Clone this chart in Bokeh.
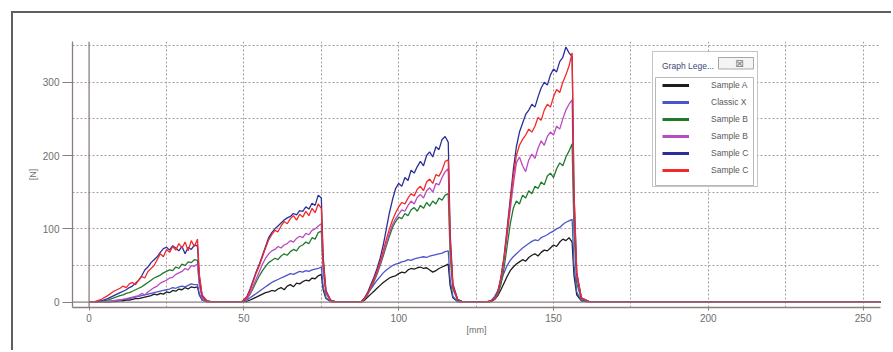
from bokeh.plotting import figure
from bokeh.models import Range1d, FixedTicker, Span, Legend, LegendItem
from bokeh.core.properties import value
from bokeh.embed import file_html
from bokeh.resources import INLINE

# ---------------- data ----------------
X1 = [0, 2, 4, 6, 8, 10, 11, 12, 13, 14, 15, 16, 17, 18, 19, 20, 21, 22, 23, 24,
      25, 26, 27, 28, 29, 30, 31, 32, 33, 34, 35, 35.6, 36.5, 38, 40]
X2 = [48, 49.5, 51, 52, 53, 54, 55, 56, 57, 58, 59, 60, 61, 62, 63, 64, 65, 66, 67,
      68, 69, 70, 71, 72, 73, 74, 75, 75.6, 76.5, 78, 80]
X3 = [86, 88, 89, 90, 91, 92, 93, 94, 95, 96, 97, 98, 99, 100, 101, 102, 103, 104,
      105, 106, 107, 108, 109, 110, 111, 112, 113, 114, 115, 116, 116.6, 117.5, 119, 121]
X4 = [126, 129, 130, 131, 132, 133, 134, 135, 136, 137, 138, 139, 140, 141, 142, 143,
      144, 145, 146, 147, 148, 149, 150, 151, 152, 153, 154, 155, 156, 156.6, 157.5, 159, 162]
X_TAIL = [257]
Y_TAIL = [0]

SAMPLE_A_1 = [0, 0, 0, 0, 1, 2, 2, 3, 3, 4, 5, 5, 6, 7, 8, 9, 11, 10, 12, 11,
              14, 13, 16, 15, 18, 17, 20, 18, 21, 20, 21, 10, 3, 1, 0]
SAMPLE_A_2 = [0, 0, 1, 3, 5, 7, 9, 11, 13, 14, 16, 15, 18, 20, 17, 22, 24, 21, 26, 25,
              28, 30, 29, 33, 32, 36, 38, 17, 5, 1, 0]
SAMPLE_A_3 = [0, 0, 3, 7, 11, 15, 19, 23, 27, 30, 33, 35, 36, 39, 41, 40, 44, 46, 45, 47,
              48, 46, 47, 44, 41, 43, 46, 48, 50, 52, 23, 6, 1, 0]
SAMPLE_A_4 = [0, 0, 1, 4, 9, 17, 26, 35, 43, 48, 52, 55, 58, 56, 61, 64, 66, 63, 68, 71,
              70, 74, 78, 76, 82, 86, 84, 88, 82, 37, 10, 2, 0]

CLASSIC_X_1 = [0, 0, 0, 1, 2, 3, 4, 4, 5, 6, 7, 8, 9, 10, 11, 12, 13, 14, 15, 16,
               17, 18, 20, 19, 21, 22, 21, 23, 25, 24, 24, 11, 3, 1, 0]
CLASSIC_X_2 = [0, 0, 3, 6, 9, 12, 15, 18, 21, 24, 27, 29, 31, 33, 35, 37, 39, 38, 40, 42,
               41, 43, 42, 44, 45, 46, 48, 21, 6, 1, 0]
CLASSIC_X_3 = [0, 1, 6, 12, 18, 24, 30, 35, 40, 44, 47, 50, 52, 53, 55, 56, 58, 57, 59, 60,
               61, 62, 61, 63, 64, 65, 66, 67, 69, 70, 31, 8, 1, 0]
CLASSIC_X_4 = [0, 1, 3, 8, 16, 28, 40, 50, 57, 62, 66, 70, 74, 77, 80, 83, 85, 84, 88, 90,
               92, 95, 97, 100, 102, 106, 109, 111, 113, 51, 14, 2, 0]

SAMPLE_B_GREEN_1 = [0, 0, 1, 3, 6, 9, 10, 12, 13, 15, 17, 19, 21, 24, 27, 30, 33, 35, 37, 40,
                    42, 44, 43, 48, 46, 52, 50, 55, 54, 58, 57, 26, 7, 1, 0]
SAMPLE_B_GREEN_2 = [0, 1, 5, 11, 19, 28, 36, 43, 49, 54, 57, 60, 58, 63, 66, 64, 69, 72, 70, 76,
                    78, 82, 80, 88, 86, 95, 97, 44, 12, 2, 0]
SAMPLE_B_GREEN_3 = [0, 1, 5, 11, 19, 28, 38, 50, 63, 77, 90, 102, 110, 116, 114, 121, 118, 126,
                    129, 124, 132, 128, 136, 131, 138, 134, 142, 139, 146, 148, 65, 18, 3, 0]
SAMPLE_B_GREEN_4 = [0, 1, 2, 4, 10, 24, 46, 76, 106, 128, 138, 134, 146, 142, 152, 148, 158,
                    155, 164, 160, 172, 176, 170, 182, 190, 186, 198, 206, 216, 97, 26, 4, 0]

SAMPLE_B_MAGENTA_1 = [0, 0, 0, 1, 2, 3, 4, 5, 6, 7, 8, 9, 12, 10, 14, 17, 20, 22, 26, 28,
                      30, 33, 34, 38, 40, 42, 46, 44, 50, 49, 52, 24, 6, 1, 0]
SAMPLE_B_MAGENTA_2 = [0, 1, 5, 12, 22, 32, 42, 52, 60, 66, 70, 72, 76, 74, 78, 80, 84, 82, 87, 90,
                      88, 94, 92, 98, 100, 104, 107, 48, 13, 2, 0]
SAMPLE_B_MAGENTA_3 = [0, 1, 5, 11, 20, 30, 40, 52, 66, 80, 94, 106, 114, 120, 126, 124, 132, 138,
                      134, 143, 147, 142, 152, 156, 150, 162, 160, 170, 178, 182, 80, 21, 4, 0]
SAMPLE_B_MAGENTA_4 = [0, 1, 2, 5, 12, 30, 56, 90, 126, 160, 190, 198, 186, 178, 194, 202, 196,
                      210, 220, 214, 226, 232, 228, 240, 236, 250, 262, 270, 276, 124, 33, 5, 0]

SAMPLE_C_NAVY_1 = [0, 0, 2, 5, 9, 13, 15, 17, 20, 22, 26, 30, 36, 44, 48, 54, 58, 62, 68, 73,
                   75, 71, 77, 74, 70, 76, 66, 75, 72, 78, 77, 35, 9, 2, 0]
SAMPLE_C_NAVY_2 = [0, 1, 8, 18, 30, 42, 52, 64, 76, 88, 95, 100, 104, 108, 112, 115, 117, 121,
                   119, 125, 124, 130, 127, 135, 132, 146, 142, 62, 16, 3, 0]
SAMPLE_C_NAVY_3 = [0, 1, 6, 14, 24, 34, 46, 60, 78, 100, 122, 140, 155, 162, 158, 170, 166, 180,
                   176, 185, 192, 186, 200, 205, 198, 212, 208, 222, 226, 218, 95, 25, 4, 0]
SAMPLE_C_NAVY_4 = [0, 1, 2, 5, 14, 34, 62, 100, 140, 180, 212, 232, 244, 256, 262, 270, 266,
                   280, 292, 300, 296, 310, 318, 314, 328, 334, 348, 340, 335, 150, 40, 6, 0]

SAMPLE_C_RED_1 = [0, 1, 4, 9, 15, 19, 22, 20, 25, 27, 24, 30, 35, 33, 42, 46, 50, 58, 66, 62,
                  72, 68, 76, 71, 80, 74, 82, 70, 84, 76, 86, 38, 10, 2, 0]
SAMPLE_C_RED_2 = [0, 1, 7, 16, 28, 40, 50, 62, 74, 85, 92, 98, 96, 104, 110, 107, 114, 118, 112,
                  120, 116, 124, 118, 128, 122, 134, 128, 56, 15, 3, 0]
SAMPLE_C_RED_3 = [0, 1, 5, 12, 21, 31, 42, 55, 70, 86, 100, 112, 122, 130, 136, 134, 142, 148,
                  145, 154, 158, 152, 164, 168, 162, 174, 172, 180, 192, 194, 86, 22, 4, 0]
SAMPLE_C_RED_4 = [0, 1, 2, 5, 13, 32, 60, 96, 135, 172, 200, 214, 222, 228, 236, 232, 240, 252,
                  248, 262, 270, 266, 280, 290, 286, 300, 310, 322, 340, 152, 40, 6, 0]

LABELS = ["Sample A", "Classic X", "Sample B", "Sample B", "Sample C", "Sample C"]
COLORS = ["#1c1c1c", "#4b55cc", "#1f7a2c", "#b84cc0", "#2b2f9c", "#f22a2a"]
SERIES = [
    [SAMPLE_A_1, SAMPLE_A_2, SAMPLE_A_3, SAMPLE_A_4],
    [CLASSIC_X_1, CLASSIC_X_2, CLASSIC_X_3, CLASSIC_X_4],
    [SAMPLE_B_GREEN_1, SAMPLE_B_GREEN_2, SAMPLE_B_GREEN_3, SAMPLE_B_GREEN_4],
    [SAMPLE_B_MAGENTA_1, SAMPLE_B_MAGENTA_2, SAMPLE_B_MAGENTA_3, SAMPLE_B_MAGENTA_4],
    [SAMPLE_C_NAVY_1, SAMPLE_C_NAVY_2, SAMPLE_C_NAVY_3, SAMPLE_C_NAVY_4],
    [SAMPLE_C_RED_1, SAMPLE_C_RED_2, SAMPLE_C_RED_3, SAMPLE_C_RED_4],
]
X_BUMPS = [X1, X2, X3, X4]

X_TICKS = [0, 50, 100, 150, 200, 250]
Y_TICKS = [0, 100, 200, 300]
X_GRID = [25, 50, 75, 100, 125, 150, 175, 200, 225, 250]
Y_GRID = [50, 100, 150, 200, 250, 300, 350]

# ---------------- figure ----------------
FONT = "Liberation Sans"
AXIS_COL = "#8a7e7e"
GRID_COL = "#a89c9c"
TEXT_COL = "#6e6e6e"
W, H = 880, 339
X0, X1R = -5.36, 255.6
Y0, Y1R = -7.2, 355.5
FRAME_W, FRAME_H = 808, 266   # frame size in px (W-59-13, H-28-45)

p = figure(width=W, height=H, output_backend="svg", toolbar_location=None,
           x_range=Range1d(X0, X1R), y_range=Range1d(Y0, Y1R),
           min_border_left=59, min_border_right=13, min_border_top=28,
           min_border_bottom=45)
# outer window frame: left and top edges
p.styles = {"margin-left": "11px", "margin-top": "11px",
            "border-left": "2px solid #5e5e5e", "border-top": "2px solid #5e5e5e"}
p.outline_line_color = None
p.background_fill_color = "white"
p.border_fill_color = "white"

p.xaxis.ticker = FixedTicker(ticks=X_TICKS)
p.yaxis.ticker = FixedTicker(ticks=Y_TICKS)
p.xgrid.ticker = FixedTicker(ticks=X_GRID)
p.ygrid.ticker = FixedTicker(ticks=Y_GRID)
for g in (p.xgrid, p.ygrid):
    g.grid_line_color = GRID_COL
    g.grid_line_dash = "2 2"
    g.grid_line_width = 1

for ax in (p.xaxis, p.yaxis):
    ax.axis_line_color = AXIS_COL
    ax.axis_line_width = 1.3
    ax.major_tick_line_color = AXIS_COL
    ax.minor_tick_line_color = None
    ax.major_tick_in = 0
    ax.major_label_text_font = FONT
    ax.major_label_text_font_size = "10px"
    ax.major_label_text_color = TEXT_COL
    ax.axis_label_text_font = FONT
    ax.axis_label_text_font_size = "9px"
    ax.axis_label_text_font_style = "normal"
    ax.axis_label_text_color = TEXT_COL
    ax.axis_label_standoff = 2
    ax.major_label_standoff = 3

p.xaxis.axis_label = "[mm]"
p.xaxis.axis_label_standoff = 0
p.yaxis.axis_label = "[N]"
p.xaxis.major_tick_out = 3
p.yaxis.major_tick_out = 10

p.add_layout(Span(location=0, dimension="height", line_color=AXIS_COL, line_width=1.3))
p.add_layout(Span(location=0, dimension="width", line_color=AXIS_COL, line_width=1.3))

items = []
for label, color, bumps in zip(LABELS, COLORS, SERIES):
    xs, ys = [], []
    for xb, yb in zip(X_BUMPS, bumps):
        n = min(len(xb), len(yb))
        xs += xb[:n]
        ys += yb[:n]
    xs += X_TAIL
    ys += Y_TAIL
    p.line(xs, ys, line_color=color, line_width=1.3)
    key = p.line(x=[float("nan")], y=[float("nan")], line_color=color, line_width=3)
    items.append(LegendItem(label=label, renderers=[key]))


# legend-window decorations, placed by frame pixel offsets converted to data scale
def fx(px):
    return X0 + px * (X1R - X0) / FRAME_W


def fy(py):
    return Y0 + py * (Y1R - Y0) / FRAME_H


# window background (legend itself is drawn transparent on top)
p.quad(left=[fx(580)], right=[fx(685)], top=[fy(254)], bottom=[fy(120)],
       fill_color="white", line_color=None)
# inner list box
p.quad(left=[fx(583)], right=[fx(681)], top=[fy(230)], bottom=[fy(122)],
       fill_alpha=0, line_color="#b8b8b8", line_width=1)
# close button
p.quad(left=[fx(646)], right=[fx(681)], top=[fy(250)], bottom=[fy(238.5)],
       fill_color="#f4f4f4", line_color="#a8a8a8", line_width=1)
p.text(x=[fx(667)], y=[fy(244.5)], text=["⊠"], text_align="center",
       text_baseline="middle", text_font=value("DejaVu Sans"),
       text_font_size="10px", text_color="#7a7a7a")

legend = Legend(items=items, location=(580, 120), title="Graph Lege...",
                title_text_font=FONT, title_text_font_size="8.5px",
                title_text_font_style="normal", title_text_color="#3d4a78",
                title_standoff=7,
                label_text_font=FONT, label_text_font_size="8.5px",
                label_text_color="#5a5a5a",
                glyph_width=27, glyph_height=14, label_height=14, label_width=36,
                spacing=3, label_standoff=22, padding=9, margin=0,
                border_line_color="#8c8c8c", border_line_width=1,
                background_fill_alpha=0.0)
p.add_layout(legend)

open("out.html", "w").write(file_html(p, INLINE))
